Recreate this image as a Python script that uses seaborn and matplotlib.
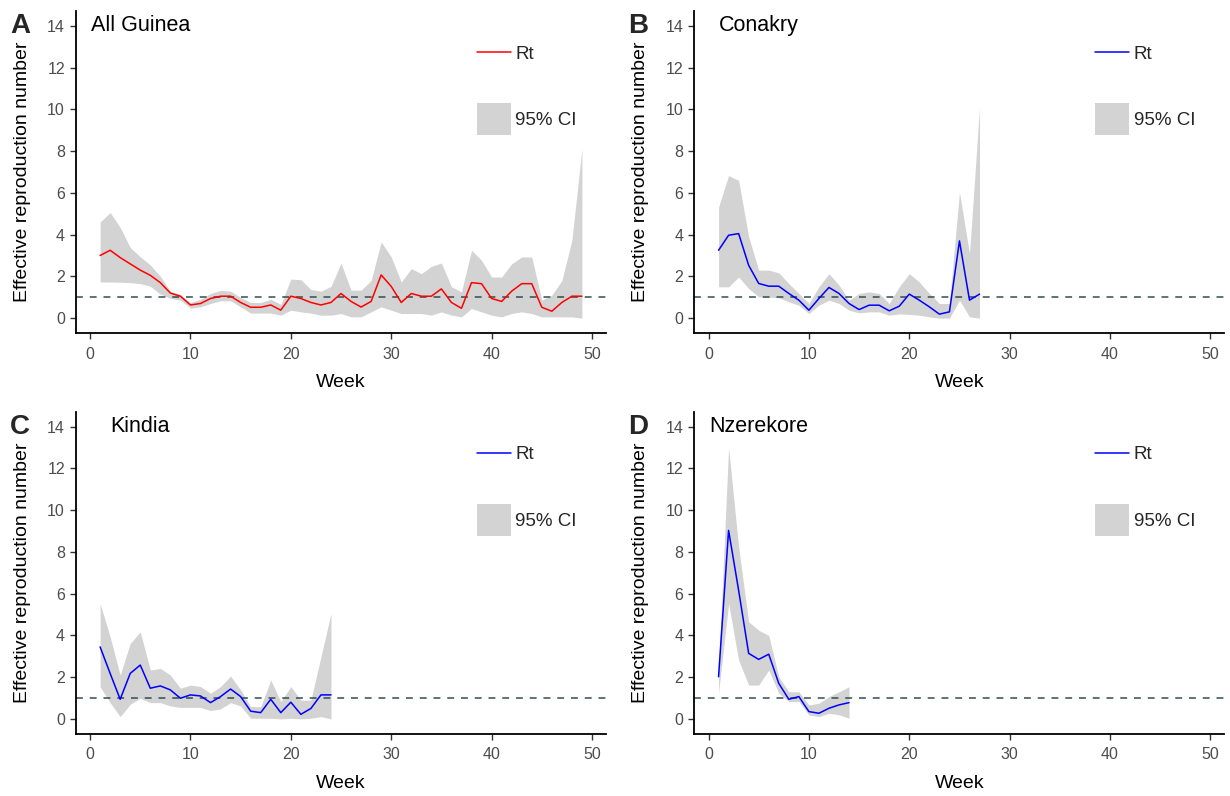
import numpy as np
import pandas as pd
import matplotlib
matplotlib.use("Agg")
import matplotlib.pyplot as plt
from matplotlib.lines import Line2D
from matplotlib.patches import Patch
import seaborn as sns

# Regions, panel letters and line colours
regions = ["All Guinea", "Conakry", "Kindia", "Nzerekore"]
letters = ["A", "B", "C", "D"]
line_colors = ["#FF0000", "#0000FF", "#0000FF", "#0000FF"]

# Weekly Rt estimates and 95% CI
rt_guinea = [3.0, 3.25, 2.9, 2.6, 2.3, 2.05, 1.7, 1.2, 1.05, 0.63,
             0.7, 0.94, 1.05, 1.05, 0.75, 0.52, 0.52, 0.63, 0.38, 1.05,
             0.94, 0.75, 0.63, 0.75, 1.18, 0.8, 0.53, 0.8, 2.07, 1.52,
             0.75, 1.18, 1.05, 1.05, 1.4, 0.75, 0.47, 1.7, 1.65, 0.94,
             0.8, 1.29, 1.65, 1.65, 0.52, 0.33, 0.75, 1.05, 1.05]
up_guinea = [4.6, 5.06, 4.35, 3.38, 2.94, 2.55, 2.0, 1.29, 1.13, 0.75,
             0.9, 1.18, 1.33, 1.29, 0.99, 0.75, 0.75, 0.9, 0.66, 1.87,
             1.84, 1.37, 1.29, 1.52, 2.63, 1.34, 1.34, 1.8, 3.65, 2.93,
             1.73, 2.37, 2.13, 2.48, 2.64, 1.5, 1.26, 3.25, 2.77, 1.97,
             1.97, 2.6, 2.93, 2.93, 0.86, 1.1, 1.8, 3.73, 8.1]
lo_guinea = [1.73, 1.73, 1.72, 1.7, 1.65, 1.53, 1.15, 0.95, 0.86, 0.48,
             0.54, 0.7, 0.83, 0.83, 0.54, 0.24, 0.24, 0.24, 0.14, 0.38,
             0.3, 0.24, 0.14, 0.14, 0.22, 0.06, 0.06, 0.3, 0.54, 0.38,
             0.22, 0.22, 0.22, 0.14, 0.3, 0.14, 0.06, 0.46, 0.3, 0.14,
             0.06, 0.22, 0.3, 0.22, 0.06, 0.06, 0.06, 0.06, 0.0]

rt_conakry = [3.25, 3.97, 4.05, 2.53, 1.66, 1.53, 1.53, 1.18, 0.86, 0.38,
              0.94, 1.47, 1.18, 0.7, 0.41, 0.62, 0.62, 0.35, 0.57, 1.15,
              0.86, 0.54, 0.19, 0.3, 3.7, 0.86, 1.15]
up_conakry = [5.32, 6.83, 6.6, 3.9, 2.3, 2.3, 2.17, 1.66, 1.18, 0.7,
              1.5, 2.13, 1.58, 0.86, 1.18, 1.26, 1.18, 0.7, 1.5, 2.13,
              1.73, 1.18, 0.7, 0.7, 6.03, 3.09, 10.1]
lo_conakry = [1.5, 1.5, 1.97, 1.42, 1.02, 1.0, 0.98, 0.78, 0.62, 0.22,
              0.62, 0.86, 0.7, 0.38, 0.25, 0.3, 0.3, 0.14, 0.2, 0.18,
              0.14, 0.06, 0.0, 0.0, 0.86, 0.06, 0.0]

rt_kindia = [3.45, 2.18, 0.94, 2.18, 2.58, 1.47, 1.58, 1.39, 0.99, 1.15,
             1.1, 0.78, 1.07, 1.43, 1.07, 0.37, 0.3, 0.94, 0.3, 0.8,
             0.22, 0.5, 1.15, 1.15]
up_kindia = [5.53, 3.93, 2.1, 3.62, 4.17, 2.34, 2.42, 2.1, 1.47, 1.62,
             1.55, 1.23, 1.55, 2.05, 1.39, 0.59, 0.59, 1.86, 0.83, 1.55,
             0.9, 0.9, 2.98, 5.05]
lo_kindia = [1.54, 0.78, 0.11, 0.7, 0.99, 0.78, 0.78, 0.62, 0.55, 0.55,
             0.55, 0.4, 0.48, 0.78, 0.62, 0.03, 0.03, 0.03, 0.0, 0.03,
             0.0, 0.03, 0.11, 0.0]

rt_nzerekore = [2.02, 9.03, 6.16, 3.14, 2.85, 3.1, 1.7, 0.94, 1.07, 0.35,
                0.27, 0.51, 0.67, 0.78]
up_nzerekore = [2.34, 13.0, 8.23, 4.65, 4.25, 4.0, 2.02, 1.3, 1.3, 0.67,
                0.75, 1.07, 1.3, 1.54]
lo_nzerekore = [1.23, 5.53, 2.82, 1.62, 1.62, 2.34, 1.23, 0.83, 0.83, 0.19,
                0.11, 0.27, 0.2, 0.03]

series = [(rt_guinea, lo_guinea, up_guinea),
          (rt_conakry, lo_conakry, up_conakry),
          (rt_kindia, lo_kindia, up_kindia),
          (rt_nzerekore, lo_nzerekore, up_nzerekore)]

sns.set_style("white")
plt.rcParams["font.family"] = ["Liberation Sans", "DejaVu Sans"]

fig = plt.figure(figsize=(12.3, 7.96), dpi=100)
# panel positions (figure fraction)
lefts = [0.0618, 0.5646, 0.0618, 0.5646]
bottoms = [0.582, 0.582, 0.0785, 0.0785]
w, h = 0.4309, 0.4038
ci_grey = "#D3D3D3"

for i, (rt, lo, up) in enumerate(series):
    ax = fig.add_axes([lefts[i], bottoms[i], w, h])
    df = pd.DataFrame({"week": np.arange(1, len(rt) + 1), "rt": rt, "lo": lo, "up": up})
    ax.fill_between(df["week"], df["lo"], df["up"], color=ci_grey, lw=0, zorder=1)
    sns.lineplot(data=df, x="week", y="rt", ax=ax, color=line_colors[i], lw=1.1, zorder=3)
    ax.axhline(1, color="#2F4F4F", lw=1.1, ls=(0, (4.5, 4.5)), zorder=2)

    ax.set_xlim(-1.4, 51.4)
    ax.set_ylim(-0.7, 14.7)
    ax.set_xticks(np.arange(0, 51, 10))
    ax.set_yticks(np.arange(0, 15, 2))
    for s in ["top", "right"]:
        ax.spines[s].set_visible(False)
    for s in ["left", "bottom"]:
        ax.spines[s].set_color("black")
        ax.spines[s].set_linewidth(1.3)
    ax.tick_params(axis="both", length=4, width=1, color="#333333",
                   labelcolor="#4D4D4D", labelsize=11.5, pad=4, bottom=True, left=True)
    ax.tick_params(axis="x", pad=6)
    ax.set_xlabel("Week", fontsize=14, color="black", labelpad=9)
    ax.set_ylabel("Effective reproduction number", fontsize=14, color="black")
    ax.yaxis.set_label_coords(-0.085, 0.5)

    ax.text(5, 14, regions[i], ha="center", va="center", fontsize=15.5, color="black")

    # two separate keys, like the reference
    leg_rt = ax.legend([Line2D([0], [0], color=line_colors[i], lw=1.1)], ["Rt"],
                       loc="center left", bbox_to_anchor=(0.7566, 0.8672),
                       frameon=False, fontsize=13.5, handlelength=1.8,
                       handletextpad=0.25, borderpad=0, borderaxespad=0)
    ax.add_artist(leg_rt)
    ax.legend([Patch(facecolor=ci_grey, edgecolor="none")], ["95% CI"],
              loc="center left", bbox_to_anchor=(0.7566, 0.6649),
              frameon=False, fontsize=13.5, handlelength=1.8, handleheight=2.25,
              handletextpad=0.25, borderpad=0, borderaxespad=0)

    fx = lefts[i] - 66 / 1230
    fy = bottoms[i] + h - 15 / 796
    fig.text(fx, fy, letters[i], fontsize=20, fontweight="bold", ha="left", va="center")

fig.savefig("out.png", dpi=100)
